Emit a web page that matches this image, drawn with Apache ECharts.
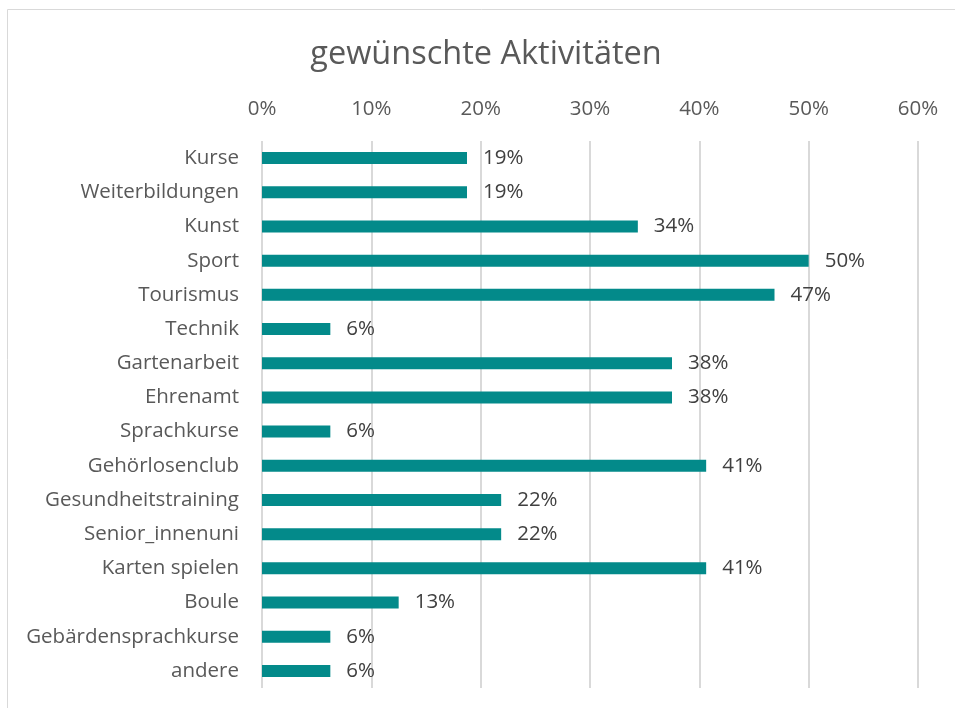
<!DOCTYPE html>
<html><head><meta charset="utf-8">
<script src="https://cdn.jsdelivr.net/npm/echarts@6/dist/echarts.min.js"></script>
<style>html,body{margin:0;padding:0;background:#fff}#c{width:955px;height:708px}</style>
</head><body><div id="c"></div>
<script>
const categories = ["Kurse","Weiterbildungen","Kunst","Sport","Tourismus","Technik","Gartenarbeit","Ehrenamt","Sprachkurse","Gehörlosenclub","Gesundheitstraining","Senior_innenuni","Karten spielen","Boule","Gebärdensprachkurse","andere"];
const values = [18.75,18.75,34.375,50,46.875,6.25,37.5,37.5,6.25,40.625,21.875,21.875,40.625,12.5,6.25,6.25];
const tickLabels = ["0%","10%","20%","30%","40%","50%","60%"];
const title = "gewünschte Aktivitäten";

const chart = echarts.init(document.getElementById('c'));
const font = "'Open Sans', sans-serif";
chart.setOption({
  animation: false,
  graphic: [
    {type:'rect', shape:{x:7.5,y:9.5,width:960,height:720}, style:{fill:'none',stroke:'#d9d9d9',lineWidth:1}, silent:true},
    {type:'text', x:486, y:55, style:{text:title, align:'center', verticalAlign:'middle', font:"normal 32.5px 'Open Sans', sans-serif", fill:'#595959'}, silent:true}
  ],
  grid: {left: 262, right: 37, top: 141, height: 547, containLabel:false},
  xAxis: {type:'value', position:'top', min:0, max:60, interval:10,
    axisLine:{show:false}, axisTick:{show:false},
    splitLine:{lineStyle:{color:'#d9d9d9', width:2}},
    axisLabel:{margin:21, fontFamily:font, fontSize:20.5, color:'#595959', formatter:(v)=>tickLabels[Math.round(v/10)]}},
  yAxis: {type:'category', data: categories, inverse:true,
    axisLine:{show:false}, axisTick:{show:false},
    axisLabel:{margin:23, fontFamily:font, fontSize:20.5, color:'#595959'}},
  series: [{type:'bar', data: values, barWidth: 12, itemStyle:{color:'#038A8A'},
    label:{show:true, position:'right', distance:16, fontFamily:font, fontSize:20.5, color:'#404040', formatter:(p)=>Math.round(p.value)+'%'}}]
});
</script></body></html>
